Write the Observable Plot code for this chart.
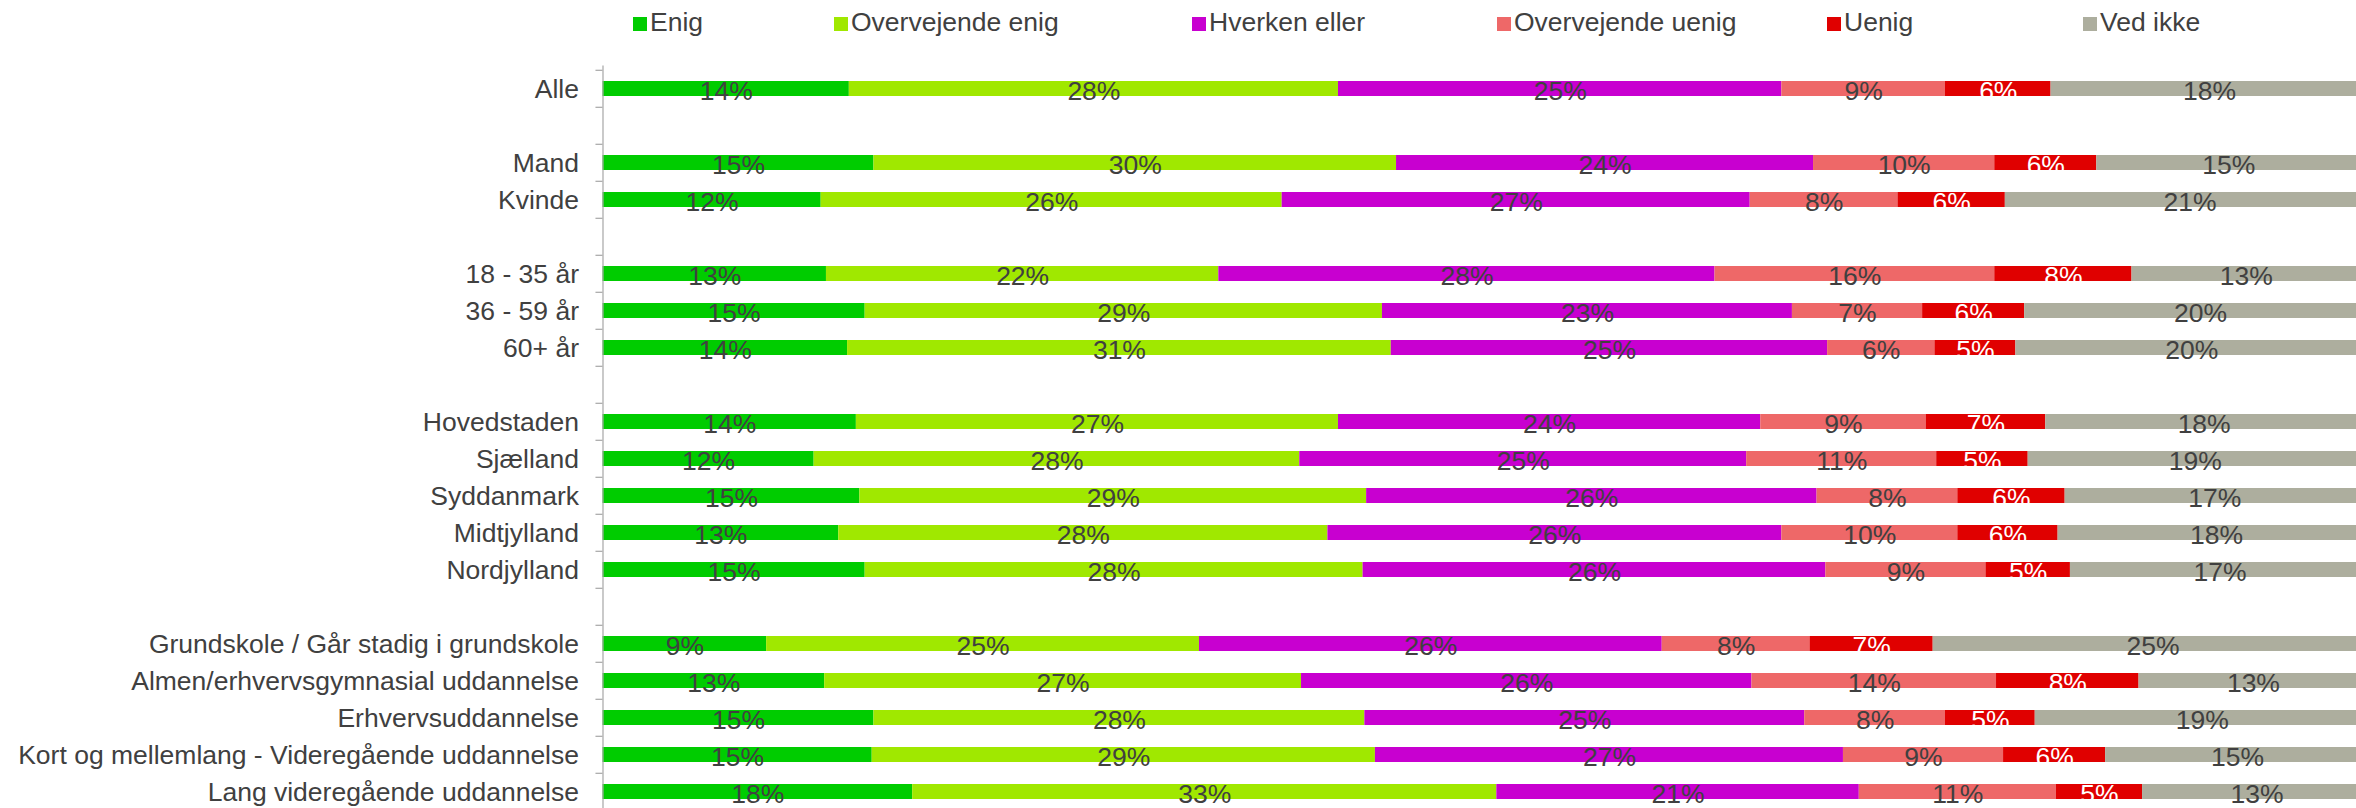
<!DOCTYPE html>
<html>
<head>
<meta charset="utf-8">
<script src="https://cdn.jsdelivr.net/npm/d3@7"></script>
<script src="https://cdn.jsdelivr.net/npm/@observablehq/plot@0.6"></script>
<style>
  html, body { margin: 0; padding: 0; background: #fff; overflow: hidden; }
  #wrap { position: relative; width: 2356px; height: 808px; font-family: "Liberation Sans", Arial, sans-serif; }
  #legend { position: absolute; left: 0; top: 0; width: 2356px; height: 50px; z-index: 2; }
  .item { position: absolute; top: 6px; font-size: 26.5px; color: #404040; line-height: 32px; white-space: nowrap; }
  .sw { position: absolute; top: 17px; width: 14px; height: 14px; }
  #chart { position: absolute; left: 0; top: 0; }
</style>
</head>
<body>
<div id="wrap">
  <div id="legend"></div>
  <div id="chart"></div>
</div>
<script>
// Categories (gap entries are empty spacer rows)
const categories = ["Alle", "gap1", "Mand", "Kvinde", "gap2", "18 - 35 år", "36 - 59 år", "60+ år", "gap3",
  "Hovedstaden", "Sjælland", "Syddanmark", "Midtjylland", "Nordjylland", "gap4",
  "Grundskole / Går stadig i grundskole", "Almen/erhvervsgymnasial uddannelse", "Erhvervsuddannelse",
  "Kort og mellemlang - Videregående uddannelse", "Lang videregående uddannelse"];
const rows = categories.filter(c => !c.startsWith("gap"));

const series = ["Enig", "Overvejende enig", "Hverken eller", "Overvejende uenig", "Uenig", "Ved ikke"];
const colors = ["#00CC00", "#A0E800", "#C800D0", "#EE6868", "#E00000", "#ADAE9E"];

// Values (%) per row, in the order of `rows`
const enig             = [14.0, 15.4, 12.4, 12.7, 14.9, 13.9, 14.4, 12.0, 14.6, 13.4, 14.9,  9.3, 12.6, 15.4, 15.3, 17.6];
const overvejendeEnig  = [27.8, 29.7, 26.2, 22.3, 29.4, 30.9, 27.4, 27.6, 28.8, 27.8, 28.3, 24.6, 27.1, 27.9, 28.6, 33.2];
const hverkenEller     = [25.2, 23.7, 26.6, 28.2, 23.3, 24.8, 24.0, 25.4, 25.6, 25.8, 26.3, 26.3, 25.6, 25.0, 26.6, 20.6];
const overvejendeUenig = [ 9.3, 10.3,  8.4, 15.9,  7.4,  6.1,  9.4, 10.8,  8.0, 10.0,  9.1,  8.4, 13.9,  8.0,  9.1, 11.2];
const uenig            = [ 6.0,  5.8,  6.1,  7.8,  5.8,  4.6,  6.8,  5.2,  6.1,  5.7,  4.8,  7.0,  8.1,  5.1,  5.8,  4.9];
const vedIkke          = [18, 15, 21, 13, 20, 20, 18, 19, 17, 18, 17, 25, 13, 19, 15, 13];

const seriesValues = [enig, overvejendeEnig, hverkenEller, overvejendeUenig, uenig, vedIkke];

const data = [];
rows.forEach((row, i) => {
  series.forEach((s, j) => {
    data.push({row, series: s, value: seriesValues[j][i]});
  });
});

const fmt = d => Math.round(d.value) + "%";
const textColor = "#404040";
const fs = 26.5;

const chart = Plot.plot({
  width: 2356,
  height: 808,
  marginLeft: 602,
  marginRight: 0,
  marginTop: 65.5,
  marginBottom: 0,
  style: {fontFamily: "'Liberation Sans', Arial, sans-serif", background: "transparent", overflow: "visible"},
  x: {domain: [0, 100], range: [602.5, 2362], axis: null},
  y: {domain: categories, range: [65.5, 813.5], padding: 0, axis: null},
  color: {domain: series, range: colors},
  marks: [
    Plot.barX(data, Plot.stackX({x: "value", y: "row", fill: "series", insetTop: 11, insetBottom: 11})),
    Plot.text(data, Plot.stackX({x: "value", y: "row", z: "series",
      text: d => d.series === "Uenig" ? "" : fmt(d), fill: textColor, fontSize: fs, dy: 2.5})),
    Plot.text(data, Plot.stackX({x: "value", y: "row", z: "series",
      text: d => d.series === "Uenig" ? fmt(d) : "", fill: "white", fontSize: fs, dy: 2.5})),
    Plot.ruleX([0], {stroke: "#A6A6A6", strokeWidth: 1.2}),
    Plot.ruleY(categories, {y: d => d, x1: -0.4, x2: 0, dy: -18.7, stroke: "#A6A6A6", strokeWidth: 1.2}),
    Plot.text(rows, {x: 0, y: d => d, text: d => d, textAnchor: "end", dx: -24, dy: 1, fontSize: fs, fill: textColor})
  ]
});
document.getElementById("chart").appendChild(chart);

// Legend
const legendX = [633, 834, 1192, 1497, 1827, 2083];
const legend = document.getElementById("legend");
series.forEach((s, i) => {
  const sw = document.createElement("div");
  sw.className = "sw";
  sw.style.left = legendX[i] + "px";
  sw.style.background = colors[i];
  legend.appendChild(sw);
  const t = document.createElement("div");
  t.className = "item";
  t.style.left = (legendX[i] + 17) + "px";
  t.textContent = s;
  legend.appendChild(t);
});
</script>
</body>
</html>
